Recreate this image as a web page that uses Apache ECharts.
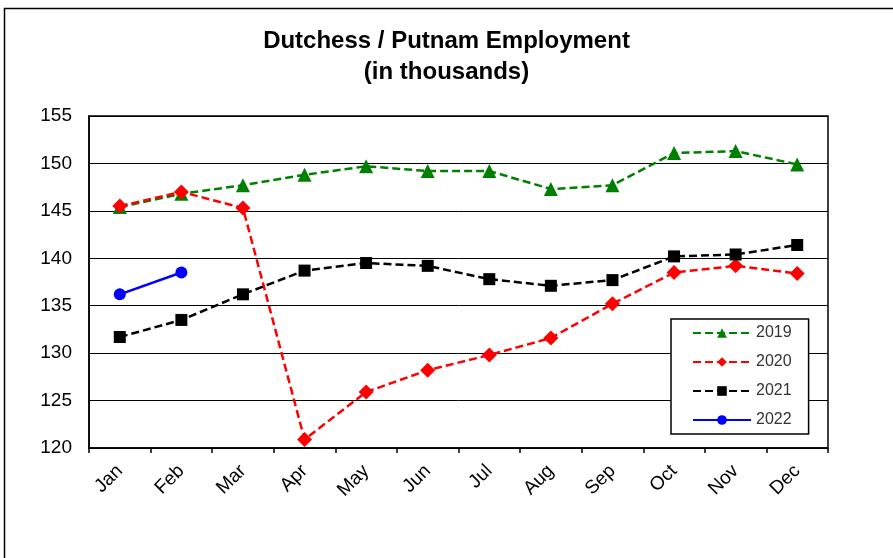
<!DOCTYPE html>
<html>
<head>
<meta charset="utf-8">
<script src="https://cdn.jsdelivr.net/npm/echarts@6/dist/echarts.min.js"></script>
<style>
  html, body { margin: 0; padding: 0; background: #fff; }
  #chart { width: 893px; height: 558px; }
</style>
</head>
<body>
<div id="chart"></div>
<script>
const months = ['Jan', 'Feb', 'Mar', 'Apr', 'May', 'Jun', 'Jul', 'Aug', 'Sep', 'Oct', 'Nov', 'Dec']
const yearNames = ['2019', '2020', '2021', '2022']
const emp2019 = [145.4, 146.8, 147.7, 148.8, 149.7, 149.2, 149.2, 147.3, 147.7, 151.1, 151.3, 149.9]
const emp2020 = [145.5, 147.0, 145.3, 120.9, 125.9, 128.2, 129.8, 131.6, 135.2, 138.5, 139.2, 138.4]
const emp2021 = [131.7, 133.5, 136.2, 138.7, 139.5, 139.2, 137.8, 137.1, 137.7, 140.2, 140.4, 141.4]
const emp2022 = [136.2, 138.5]

const font = '"Liberation Sans", Arial, sans-serif'
const chart = echarts.init(document.getElementById('chart'))

const dashed = (name, data, color, symbol, size) => ({
  name,
  type: 'line',
  data,
  symbol,
  symbolSize: size,
  itemStyle: { color },
  lineStyle: { color, width: 2.5, type: [8, 4] },
  z: 3
})

chart.setOption({
  animation: false,
  textStyle: { fontFamily: font },
  title: {
    text: 'Dutchess / Putnam Employment\n(in thousands)',
    left: 'center',
    top: 21,
    textStyle: { fontFamily: font, fontSize: 24, fontWeight: 'bold', color: '#000', lineHeight: 31 }
  },
  graphic: [
    {
      type: 'rect',
      shape: { x: 4.5, y: 8.5, width: 1000, height: 1000 },
      style: { fill: 'none', stroke: '#000', lineWidth: 1.5 },
      silent: true
    }
  ],
  grid: {
    left: 89, right: 65, top: 116, bottom: 110,
    show: true, borderColor: '#000', borderWidth: 1.5
  },
  legend: {
    orient: 'vertical',
    left: 671, top: 319,
    padding: [6, 17, 6, 21],
    itemWidth: 58, itemHeight: 12, itemGap: 13,
    backgroundColor: '#fff',
    borderColor: '#000', borderWidth: 1.5,
    textStyle: { fontFamily: font, fontSize: 16, color: '#333', lineHeight: 14 },
    data: yearNames
  },
  xAxis: {
    type: 'category',
    data: months,
    boundaryGap: true,
    axisLine: { lineStyle: { color: '#000', width: 1.5 } },
    axisTick: { show: true, length: 5, inside: false, lineStyle: { color: '#000', width: 1.5 } },
    axisLabel: { rotate: 45, fontSize: 19, color: '#000', margin: 20, fontFamily: font }
  },
  yAxis: {
    type: 'value',
    min: 120, max: 155, interval: 5,
    axisLine: { show: true, lineStyle: { color: '#000', width: 1.5 } },
    axisTick: { show: false },
    axisLabel: { fontSize: 19, color: '#000', margin: 17, fontFamily: font },
    splitLine: { show: true, lineStyle: { color: '#000', width: 1 } }
  },
  series: [
    dashed('2019', emp2019, '#008000', 'triangle', 14),
    dashed('2020', emp2020, '#ff0000', 'diamond', 15),
    dashed('2021', emp2021, '#000000', 'rect', 12),
    {
      name: '2022',
      type: 'line',
      data: emp2022,
      symbol: 'circle',
      symbolSize: 12,
      itemStyle: { color: '#0000ff' },
      lineStyle: { color: '#0000ff', width: 2.5 },
      z: 4
    }
  ]
})
</script>
</body>
</html>
